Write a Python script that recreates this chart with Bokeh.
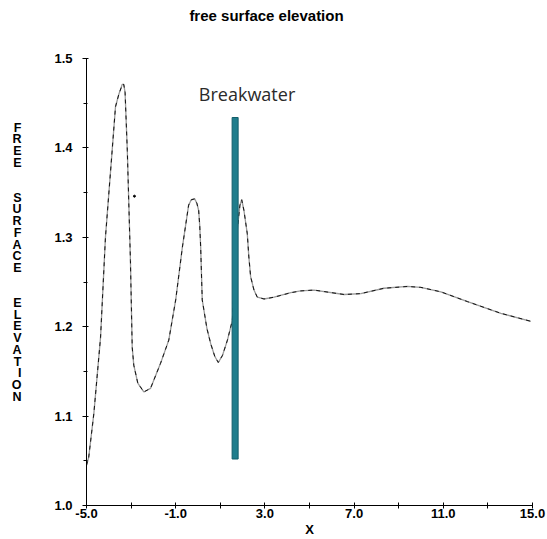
from bokeh.plotting import figure
from bokeh.models import Range1d, FixedTicker, NumeralTickFormatter, Label, LinearAxis
from bokeh.embed import file_html
from bokeh.resources import INLINE

# ---- data ----
x_vals = [-5.0, -4.90, -4.67, -4.37, -4.15, -3.85, -3.70, -3.55, -3.45, -3.40, -3.33, -3.27,
          -3.17, -3.03, -2.95, -2.88, -2.70, -2.43, -2.13, -1.68, -1.31, -1.00, -0.70,
          -0.42, -0.30, -0.15, -0.05, 0.03, 0.08, 0.12, 0.19, 0.40, 0.57, 0.75, 0.91, 1.10,
          1.32, 1.54, 1.76, 1.88, 1.96, 2.06, 2.21, 2.28, 2.36, 2.51, 2.66, 2.96, 3.41,
          4.16, 4.60, 5.20, 6.55, 7.30, 8.34, 9.39, 9.99, 10.89, 12.09, 13.58, 14.93]
eta = [1.045, 1.054, 1.103, 1.188, 1.300, 1.397, 1.446, 1.460, 1.467, 1.471, 1.471, 1.462,
       1.397, 1.274, 1.177, 1.157, 1.137, 1.127, 1.131, 1.159, 1.185, 1.230, 1.289,
       1.336, 1.342, 1.343, 1.338, 1.330, 1.312, 1.289, 1.230, 1.198, 1.181, 1.167, 1.160, 1.168,
       1.185, 1.207, 1.308, 1.336, 1.342, 1.330, 1.304, 1.278, 1.256, 1.241, 1.233, 1.231, 1.233,
       1.238, 1.240, 1.241, 1.236, 1.237, 1.243, 1.245, 1.244, 1.239, 1.228, 1.215, 1.206]
stray_x = [-2.85]
stray_y = [1.346]

x_ticks = [-5.0, -1.0, 3.0, 7.0, 11.0, 15.0]
x_minor_ticks = [-3.0, 1.0, 5.0, 9.0, 13.0]
y_ticks = [1.0, 1.1, 1.2, 1.3, 1.4, 1.5]
y_minor_ticks = [1.05, 1.15, 1.25, 1.35, 1.45]

breakwater_x = [1.665]
breakwater_bottom = [1.052]
breakwater_top = [1.434]
breakwater_width = 0.27
breakwater_label = "Breakwater"
breakwater_label_pos = (2.2, 1.460)

title_text = "free surface elevation"
y_label_text = "FREE SURFACE ELEVATION"
x_label_text = "X"

# ---- figure ----
W, H = 547, 539
LEFT, RIGHT, TOP, BOTTOM = 86, 15, 58, 34
FRAME_TOP, FRAME_BOTTOM = TOP, H - BOTTOM
FRAME_LEFT, FRAME_RIGHT = LEFT, W - RIGHT

p = figure(width=W, height=H, x_range=Range1d(-5, 15), y_range=Range1d(1.0, 1.5),
           output_backend="svg", toolbar_location=None,
           min_border_left=LEFT, min_border_right=RIGHT,
           min_border_top=TOP, min_border_bottom=BOTTOM)
p.outline_line_color = None
p.xgrid.visible = False
p.ygrid.visible = False
p.background_fill_color = "white"
p.border_fill_color = "white"
p.title.visible = False

tick_font = "Liberation Sans"
for ax in (p.xaxis[0], p.yaxis[0]):
    ax.axis_line_color = "black"
    ax.axis_line_width = 1
    ax.major_tick_line_color = "black"
    ax.minor_tick_line_color = "black"
    ax.major_label_text_font = tick_font
    ax.major_label_text_font_style = "bold"
    ax.major_label_text_font_size = "13px"
    ax.major_label_text_color = "black"
    ax.formatter = NumeralTickFormatter(format="0.0")

p.xaxis.ticker = FixedTicker(ticks=x_ticks, minor_ticks=x_minor_ticks)
p.yaxis.ticker = FixedTicker(ticks=y_ticks, minor_ticks=y_minor_ticks)
p.xaxis.major_tick_in = 3
p.xaxis.major_tick_out = 3
p.xaxis.minor_tick_in = 3
p.xaxis.minor_tick_out = 3
p.xaxis.major_label_standoff = 0
p.xaxis.axis_label = x_label_text
p.xaxis.axis_label_standoff = 1
p.xaxis.axis_label_text_font = tick_font
p.xaxis.axis_label_text_font_style = "bold"
p.xaxis.axis_label_text_font_size = "13px"
p.xaxis.axis_label_text_color = "black"
p.yaxis.major_tick_in = 2
p.yaxis.major_tick_out = 4
p.yaxis.minor_tick_in = 1
p.yaxis.minor_tick_out = 3
p.yaxis.major_label_standoff = 10

# title: a line-less axis above the frame carrying one centred label
TITLE_CENTER_PX = 266.0
p.extra_x_ranges = {"title": Range1d(start=FRAME_LEFT - TITLE_CENTER_PX, end=FRAME_RIGHT - TITLE_CENTER_PX)}
title_axis = LinearAxis(x_range_name="title", ticker=FixedTicker(ticks=[0], minor_ticks=[]),
                        major_label_overrides={0: title_text},
                        axis_line_color=None, major_tick_line_color=None, minor_tick_line_color=None,
                        major_tick_in=0, major_tick_out=0, minor_tick_in=0, minor_tick_out=0,
                        major_label_standoff=35,
                        major_label_text_font=tick_font, major_label_text_font_style="bold",
                        major_label_text_font_size="15px", major_label_text_color="black")
p.add_layout(title_axis, "above")

# stacked y-axis label: an extra, line-less axis whose tick labels are the letters
LETTER_TOP_PX, LETTER_STEP = 127.0, 11.7
letter_ticks, letter_labels = [], {}
i = 0
for word in y_label_text.split():
    for ch in word:
        letter_ticks.append(i)
        letter_labels[i] = ch
        i += 1
    i += 2
p.extra_y_ranges = {"letters": Range1d(start=(FRAME_BOTTOM - LETTER_TOP_PX) / LETTER_STEP,
                                       end=(FRAME_TOP - LETTER_TOP_PX) / LETTER_STEP)}
letter_axis = LinearAxis(y_range_name="letters", ticker=FixedTicker(ticks=letter_ticks, minor_ticks=[]),
                         major_label_overrides=letter_labels,
                         axis_line_color=None, major_tick_line_color=None, minor_tick_line_color=None,
                         major_tick_in=0, major_tick_out=0, minor_tick_in=0, minor_tick_out=0,
                         major_label_standoff=30,
                         major_label_text_font=tick_font, major_label_text_font_style="bold",
                         major_label_text_font_size="12.5px", major_label_text_color="black")
p.add_layout(letter_axis, "left")

# curve
p.line(x_vals, eta, line_color="#9a9a9a", line_width=1.3)
p.line(x_vals, eta, line_color="#111111", line_width=1.0, line_dash="4 4")
p.scatter(stray_x, stray_y, size=2, color="black")

# breakwater
p.vbar(x=breakwater_x, width=breakwater_width, bottom=breakwater_bottom, top=breakwater_top,
       fill_color="#1f7d8c", line_color="#135e6a", line_width=1)

p.add_layout(Label(x=breakwater_label_pos[0], y=breakwater_label_pos[1], text=breakwater_label,
                   text_align="center", text_baseline="middle", text_font="Open Sans",
                   text_font_size="18px", text_color="#2a2a2a"))

open("out.html", "w").write(file_html(p, INLINE))
